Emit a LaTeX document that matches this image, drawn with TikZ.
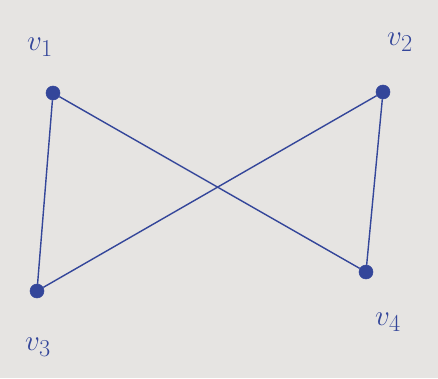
\documentclass[tikz,border=0pt]{standalone}
\definecolor{ink}{HTML}{34469A}
\definecolor{paper}{HTML}{E6E4E2}
\tikzset{vert/.style={fill=ink, draw=ink, shape=circle, inner sep=0pt, minimum size=12pt},
	lbl/.style={text=ink, font=\fontsize{32}{36}\selectfont}}
\begin{document}
\begin{tikzpicture}[x=0.03cm, y=-0.03cm]
		\fill[paper] (0,0) rectangle (438,378);
		\useasboundingbox (0,0) rectangle (438,378);
		\node [vert] (v1) at (53, 93) {};
		\node [vert] (v2) at (383, 92) {};
		\node [vert] (v3) at (37, 291) {};
		\node [vert] (v4) at (366, 272) {};
		\node [lbl] (l1) at (40, 47) {$v_1$};
		\node [lbl] (l2) at (400, 42) {$v_2$};
		\node [lbl] (l3) at (38, 347) {$v_3$};
		\node [lbl] (l4) at (388, 322) {$v_4$};
		\draw[ink, line width=1.2pt] (v1) -- (v3);
		\draw[ink, line width=1.2pt] (v1) -- (v4);
		\draw[ink, line width=1.2pt] (v2) -- (v3);
		\draw[ink, line width=1.2pt] (v2) -- (v4);
	\end{tikzpicture}
\end{document}
